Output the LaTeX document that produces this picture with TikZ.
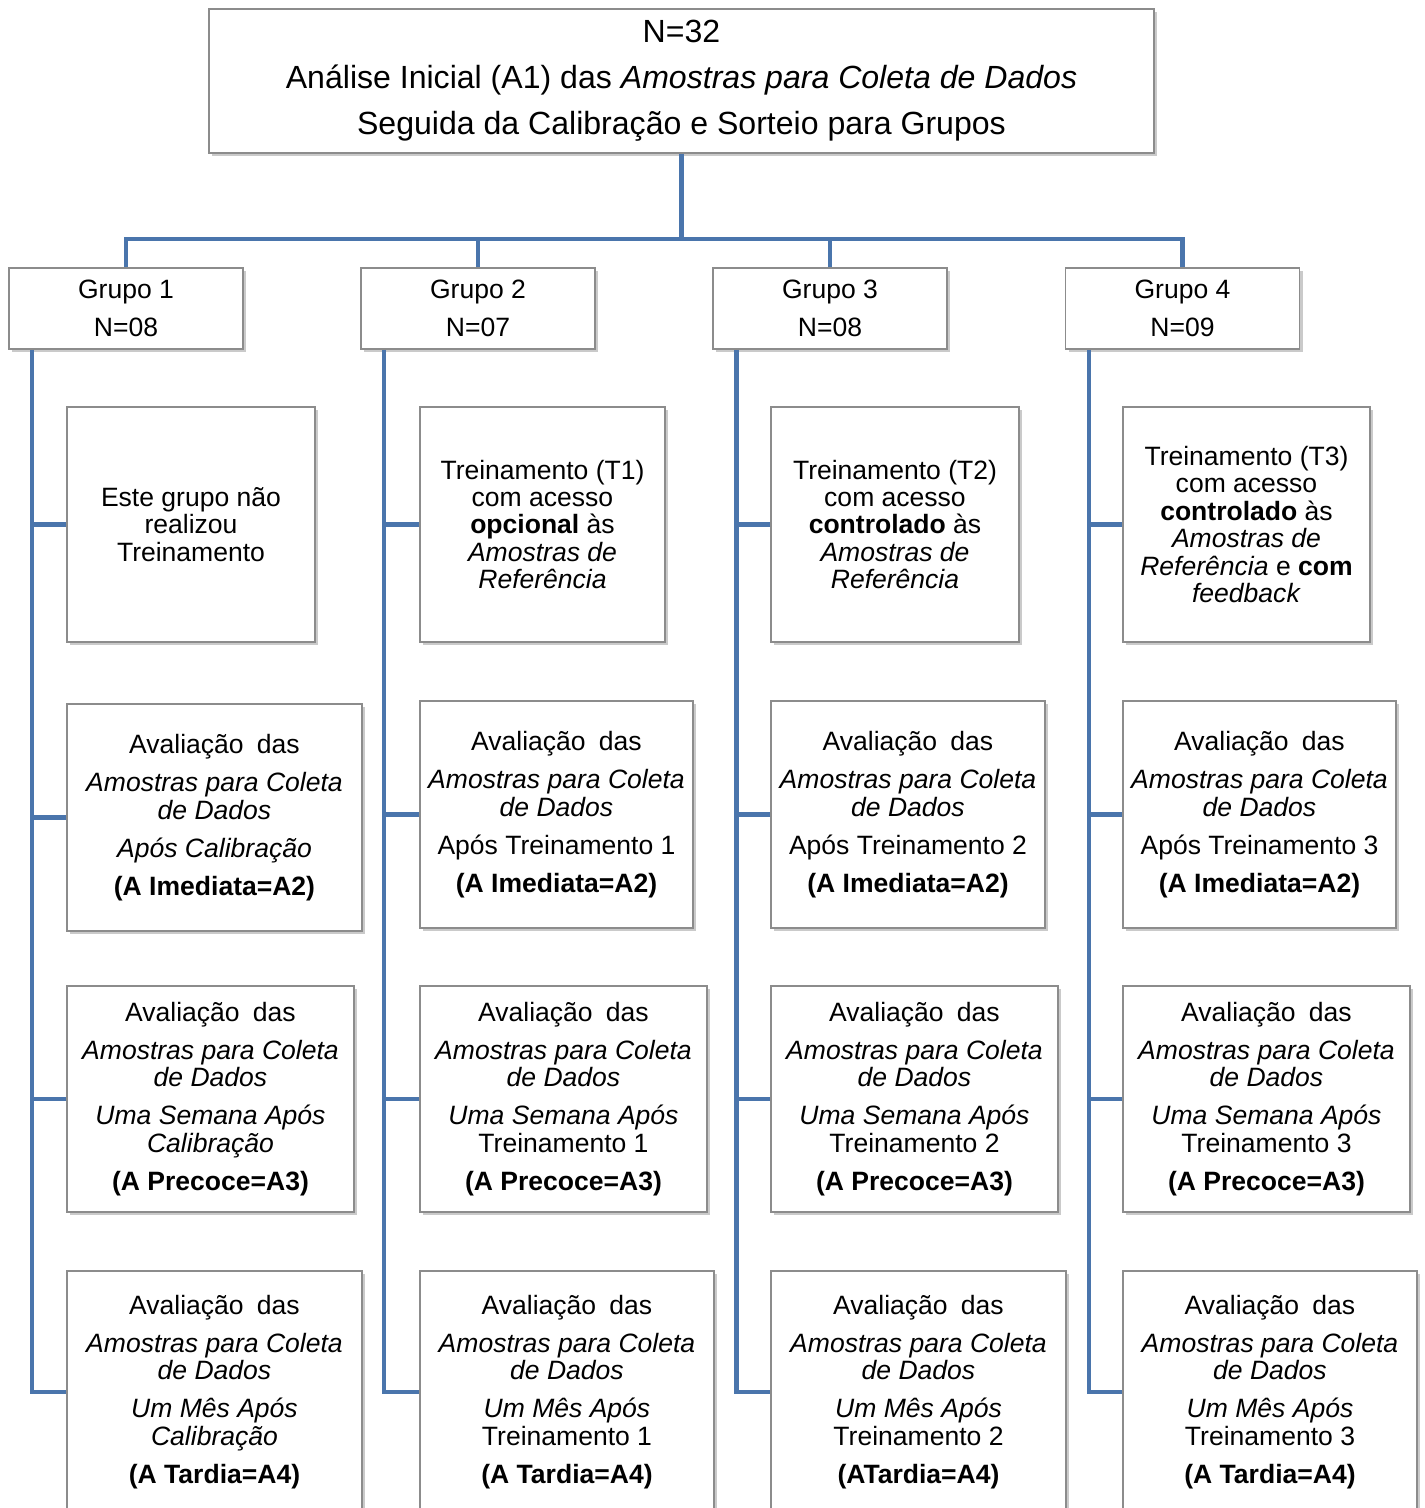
\documentclass[tikz,border=0pt]{standalone}
\usepackage{fontspec}
\setmainfont{Liberation Sans}
\usepackage{xcolor}
\usepackage{tikz}
\usetikzlibrary{shadows,calc}

\definecolor{linkblue}{HTML}{4A75AC}
\definecolor{boxgray}{HTML}{8C8C8C}
\newlength\px
\setlength\px{0.02cm}

\tikzset{
    box/.style={draw=boxgray, line width=0.6pt, fill=white, align=center, inner sep=0pt,
        drop shadow={shadow xshift=0.06cm, shadow yshift=-0.06cm, opacity=0.35, fill=black!60},
        font=\fontsize{15.1}{15.6}\selectfont},
    link/.style={draw=linkblue, line width=2.3pt},
}

\newcommand{\aval}{Avalia\c{c}\~ao\hspace{0.5em}das\\[6pt]\textit{Amostras para Coleta}\\\textit{de Dados}\\[6pt]}

\begin{document}
\begin{tikzpicture}[x=0.02cm, y=-0.02cm]
    \useasboundingbox (0,0) rectangle (1424,1508);
    \clip (0,0) rectangle (1424,1508);

    % topo
    \node[box, minimum width=945\px, minimum height=144\px, font=\fontsize{18.25}{26.1}\selectfont] (top) at (681.5,81)
        {N=32\\An\'alise Inicial (A1) das \textit{Amostras para Coleta de Dados}\\Seguida da Calibra\c{c}\~ao e Sorteio para Grupos};

    % grupos
    \node[box, minimum width=234\px, minimum height=81\px] (g1) at (126,308.5) {Grupo 1\\[6pt]N=08};
    \node[box, minimum width=234\px, minimum height=81\px] (g2) at (478,308.5) {Grupo 2\\[6pt]N=07};
    \node[box, minimum width=234\px, minimum height=81\px] (g3) at (830,308.5) {Grupo 3\\[6pt]N=08};
    \node[box, minimum width=234\px, minimum height=81\px] (g4) at (1182.5,308.5) {Grupo 4\\[6pt]N=09};

    % treinamentos
    \node[box, minimum width=248\px, minimum height=235\px] (t1) at (191,524.5)
        {Este grupo n\~ao\\realizou\\Treinamento};
    \node[box, minimum width=245\px, minimum height=235\px] (t2) at (542.5,524.5)
        {Treinamento (T1)\\com acesso\\\textbf{opcional} \`as\\\textit{Amostras de}\\\textit{Refer\^encia}};
    \node[box, minimum width=248\px, minimum height=235\px] (t3) at (895,524.5)
        {Treinamento (T2)\\com acesso\\\textbf{controlado} \`as\\\textit{Amostras de}\\\textit{Refer\^encia}};
    \node[box, minimum width=247\px, minimum height=235\px] (t4) at (1246.5,524.5)
        {Treinamento (T3)\\com acesso\\\textbf{controlado} \`as\\\textit{Amostras de}\\\textit{Refer\^encia} e \textbf{com}\\\textit{feedback}};

    % avaliacao imediata
    \node[box, minimum width=295\px, minimum height=227\px] (a2g1) at (214.5,817.5)
        {\aval\textit{Ap\'os Calibra\c{c}\~ao}\\[6pt]\textbf{(A Imediata=A2)}};
    \node[box, minimum width=273\px, minimum height=227\px] (a2g2) at (556.5,814.5)
        {\aval Ap\'os Treinamento 1\\[6pt]\textbf{(A Imediata=A2)}};
    \node[box, minimum width=274\px, minimum height=227\px] (a2g3) at (908,814.5)
        {\aval Ap\'os Treinamento 2\\[6pt]\textbf{(A Imediata=A2)}};
    \node[box, minimum width=273\px, minimum height=227\px] (a2g4) at (1259.5,814.5)
        {\aval Ap\'os Treinamento 3\\[6pt]\textbf{(A Imediata=A2)}};

    % avaliacao precoce
    \node[box, minimum width=287\px, minimum height=226\px] (a3g1) at (210.5,1099)
        {\aval\textit{Uma Semana Ap\'os}\\\textit{Calibra\c{c}\~ao}\\[6pt]\textbf{(A Precoce=A3)}};
    \node[box, minimum width=287\px, minimum height=226\px] (a3g2) at (563.5,1099)
        {\aval\textit{Uma Semana Ap\'os}\\Treinamento 1\\[6pt]\textbf{(A Precoce=A3)}};
    \node[box, minimum width=287\px, minimum height=226\px] (a3g3) at (914.5,1099)
        {\aval\textit{Uma Semana Ap\'os}\\Treinamento 2\\[6pt]\textbf{(A Precoce=A3)}};
    \node[box, minimum width=287\px, minimum height=226\px] (a3g4) at (1266.5,1099)
        {\aval\textit{Uma Semana Ap\'os}\\Treinamento 3\\[6pt]\textbf{(A Precoce=A3)}};

    % avaliacao tardia
    \node[box, minimum width=295\px, minimum height=242\px] (a4g1) at (214.5,1392)
        {\aval\textit{Um M\^es Ap\'os}\\\textit{Calibra\c{c}\~ao}\\[6pt]\textbf{(A Tardia=A4)}};
    \node[box, minimum width=294\px, minimum height=242\px] (a4g2) at (567,1392)
        {\aval\textit{Um M\^es Ap\'os}\\Treinamento 1\\[6pt]\textbf{(A Tardia=A4)}};
    \node[box, minimum width=295\px, minimum height=242\px] (a4g3) at (918.5,1392)
        {\aval\textit{Um M\^es Ap\'os}\\Treinamento 2\\[6pt]\textbf{(ATardia=A4)}};
    \node[box, minimum width=294\px, minimum height=242\px] (a4g4) at (1270,1392)
        {\aval\textit{Um M\^es Ap\'os}\\Treinamento 3\\[6pt]\textbf{(A Tardia=A4)}};

    % ligacoes
    \coordinate (bus) at (681.5,239);
    \draw[link] (top.south) -- (bus);
    \draw[link] (g1.north) |- (bus) -| (g4.north);
    \draw[link] (g2.north) -- (g2.north |- bus);
    \draw[link] (g3.north) -- (g3.north |- bus);

    \foreach \g in {1,2,3,4}{
        \coordinate (l\g) at ($(g\g.south west)+(24,0)$);
        \draw[link] (l\g) |- (a4g\g.west);
        \draw[link] (t\g.west) -- (t\g.west -| l\g);
        \draw[link] (a2g\g.west) -- (a2g\g.west -| l\g);
        \draw[link] (a3g\g.west) -- (a3g\g.west -| l\g);
    }
\end{tikzpicture}
\end{document}
